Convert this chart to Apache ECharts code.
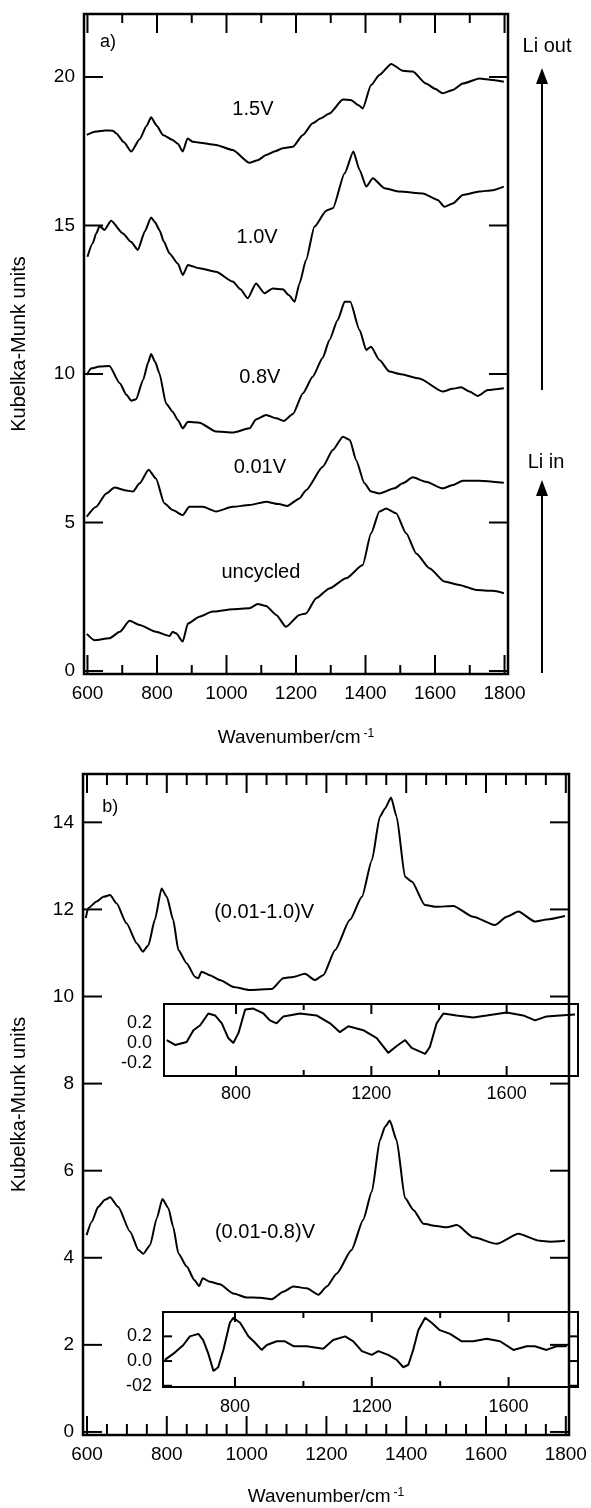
<!DOCTYPE html>
<html>
<head>
<meta charset="utf-8">
<script src="https://cdn.jsdelivr.net/npm/echarts@6/dist/echarts.min.js"></script>
<style>
  html, body { margin: 0; padding: 0; background: #fff; }
  #chart { width: 591px; height: 1508px; }
</style>
</head>
<body>
<div id="chart"></div>
<script>
// ---- Panel a: DRIFT spectra at several potentials, [wavenumber (cm-1), Kubelka-Munk units]
const spec15V = [[598,18.05],[625,18.16],[650,18.2],[673,18.19],[683,18.1],[705,17.8],[726,17.49],[750,17.9],[770,18.35],[783,18.64],[800,18.35],[817,18.05],[845,17.88],[860,17.75],[874,17.49],[888,17.93],[903,17.82],[970,17.71],[1018,17.54],[1066,17.11],[1090,17.2],[1114,17.37],[1140,17.5],[1162,17.6],[1191,17.65],[1220,18.05],[1248,18.44],[1270,18.6],[1296,18.77],[1335,19.24],[1359,19.22],[1380,19.05],[1392,18.94],[1416,19.73],[1440,20.07],[1474,20.44],[1507,20.21],[1536,20.18],[1574,19.78],[1600,19.6],[1622,19.45],[1651,19.56],[1680,19.78],[1728,19.95],[1766,19.9],[1798,19.84]];
const spec10V = [[600,13.95],[615,14.4],[625,14.73],[635,14.98],[649,14.85],[668,15.16],[702,14.73],[725,14.45],[745,14.18],[765,14.8],[783,15.27],[795,15.1],[807,14.85],[820,14.45],[836,14.06],[860,13.72],[874,13.33],[889,13.67],[922,13.56],[970,13.44],[1018,13.11],[1040,12.85],[1061,12.55],[1085,13.05],[1109,12.72],[1133,12.88],[1162,12.85],[1180,12.65],[1196,12.43],[1210,13.05],[1229,13.84],[1253,14.96],[1287,15.5],[1306,15.58],[1340,16.76],[1365,17.49],[1383,16.87],[1402,16.31],[1421,16.59],[1455,16.25],[1498,16.14],[1565,16.08],[1608,15.86],[1627,15.63],[1651,15.74],[1680,16.03],[1728,16.14],[1766,16.19],[1798,16.31]];
const spec08V = [[598,9.97],[611,10.19],[635,10.25],[663,10.27],[693,9.69],[712,9.3],[726,9.1],[740,9.15],[760,9.8],[775,10.4],[783,10.67],[795,10.4],[807,10.02],[826,9.01],[845,8.73],[860,8.45],[874,8.17],[889,8.39],[922,8.36],[970,8.06],[1018,8.03],[1066,8.17],[1085,8.47],[1114,8.62],[1143,8.51],[1165,8.42],[1191,8.65],[1220,9.35],[1248,9.91],[1277,10.55],[1296,11.14],[1320,11.82],[1340,12.43],[1356,12.43],[1383,11.48],[1402,10.81],[1416,10.92],[1440,10.47],[1469,10.08],[1498,10.0],[1555,9.85],[1622,9.41],[1650,9.5],[1675,9.55],[1699,9.41],[1723,9.26],[1752,9.46],[1798,9.52]];
const spec001V = [[598,5.2],[625,5.53],[654,5.98],[678,6.18],[707,6.09],[731,6.04],[750,6.32],[776,6.78],[797,6.48],[821,5.65],[845,5.42],[874,5.25],[893,5.53],[932,5.53],[970,5.37],[1018,5.53],[1066,5.59],[1114,5.7],[1150,5.62],[1175,5.56],[1210,5.81],[1229,6.09],[1277,6.88],[1306,7.44],[1335,7.89],[1355,7.78],[1373,7.1],[1397,6.32],[1416,6.04],[1440,5.98],[1483,6.15],[1507,6.32],[1536,6.52],[1574,6.37],[1622,6.15],[1651,6.26],[1680,6.41],[1728,6.41],[1798,6.34]];
const specUncycled = [[598,1.25],[620,1.04],[663,1.1],[693,1.32],[721,1.69],[750,1.55],[797,1.32],[836,1.18],[845,1.32],[855,1.27],[874,0.99],[889,1.6],[922,1.83],[960,2.0],[1018,2.08],[1066,2.11],[1090,2.26],[1114,2.19],[1143,1.89],[1171,1.49],[1210,1.89],[1229,1.94],[1258,2.45],[1296,2.78],[1344,3.12],[1392,3.57],[1416,4.64],[1440,5.37],[1459,5.47],[1488,5.31],[1517,4.64],[1546,3.96],[1584,3.46],[1627,3.01],[1670,2.9],[1719,2.73],[1766,2.7],[1798,2.62]];

// ---- Panel b: spectra after cycling between two potentials
const cyc001to10 = [[597,11.8],[603,12.03],[624,12.18],[641,12.29],[658,12.33],[674,12.14],[699,11.68],[725,11.22],[740,11.03],[754,11.18],[770,11.76],[787,12.48],[800,12.29],[816,11.76],[829,11.07],[850,10.76],[871,10.45],[879,10.42],[887,10.57],[908,10.49],[933,10.38],[967,10.22],[1008,10.15],[1063,10.17],[1092,10.42],[1117,10.45],[1146,10.52],[1171,10.38],[1192,10.49],[1222,11.07],[1259,11.76],[1289,12.29],[1314,13.13],[1334,14.13],[1347,14.32],[1362,14.57],[1376,14.13],[1397,12.75],[1414,12.64],[1447,12.1],[1476,12.06],[1518,12.08],[1568,11.83],[1622,11.64],[1652,11.83],[1681,11.95],[1723,11.72],[1752,11.77],[1798,11.85]];
const cyc001to08 = [[599,4.52],[612,4.83],[628,5.17],[645,5.33],[658,5.39],[678,5.17],[708,4.6],[729,4.18],[741,4.09],[758,4.29],[775,4.91],[789,5.35],[804,5.14],[816,4.71],[829,4.1],[850,3.8],[869,3.49],[881,3.35],[890,3.53],[908,3.45],[933,3.39],[967,3.18],[1000,3.09],[1034,3.08],[1063,3.05],[1092,3.22],[1117,3.34],[1151,3.3],[1180,3.15],[1201,3.34],[1226,3.64],[1263,4.18],[1292,4.87],[1314,5.52],[1334,6.7],[1347,7.01],[1359,7.15],[1376,6.7],[1397,5.37],[1418,5.1],[1443,4.78],[1476,4.73],[1501,4.7],[1527,4.75],[1568,4.47],[1627,4.32],[1681,4.55],[1735,4.39],[1760,4.37],[1798,4.39]];

// ---- Insets: difference spectra
const diff10 = [[595,0.03],[620,-0.02],[654,0.01],[674,0.13],[694,0.18],[718,0.3],[738,0.28],[758,0.2],[777,0.05],[792,0.0],[807,0.1],[827,0.34],[851,0.35],[881,0.3],[900,0.23],[920,0.2],[940,0.27],[989,0.3],[1038,0.28],[1078,0.2],[1107,0.11],[1132,0.17],[1176,0.13],[1216,0.05],[1250,-0.1],[1275,-0.03],[1300,0.03],[1319,-0.05],[1359,-0.11],[1373,-0.04],[1393,0.2],[1413,0.3],[1452,0.28],[1501,0.26],[1541,0.28],[1600,0.31],[1649,0.28],[1684,0.23],[1718,0.27],[1758,0.28],[1802,0.29]];
const diff08 = [[595,0.01],[620,0.06],[649,0.13],[668,0.2],[693,0.22],[707,0.17],[722,0.06],[737,-0.08],[751,-0.05],[766,0.09],[785,0.31],[795,0.35],[815,0.31],[839,0.2],[858,0.15],[878,0.09],[893,0.13],[922,0.16],[946,0.16],[971,0.12],[1010,0.12],[1058,0.1],[1087,0.17],[1122,0.2],[1146,0.16],[1171,0.08],[1200,0.05],[1219,0.08],[1248,0.05],[1273,0.01],[1292,-0.05],[1307,-0.03],[1321,0.09],[1336,0.25],[1356,0.35],[1375,0.31],[1399,0.25],[1429,0.22],[1463,0.16],[1497,0.16],[1536,0.18],[1575,0.16],[1614,0.09],[1653,0.12],[1677,0.12],[1711,0.09],[1740,0.12],[1770,0.12]];

// ---- Tick values and labels
const xMajor = [600, 800, 1000, 1200, 1400, 1600, 1800];
const xMinorA = [700, 900, 1100, 1300, 1500, 1700];
const xMinorB = [650, 700, 750, 850, 900, 950, 1050, 1100, 1150, 1250, 1300, 1350, 1450, 1500, 1550, 1650, 1700, 1750];
const yTicksA = [0, 5, 10, 15, 20];
const yTicksB = [0, 2, 4, 6, 8, 10, 12, 14];
const insetXMajor = [800, 1200, 1600];
const insetXMinor = [1000, 1400];
const insetYTicks = [0.2, 0, -0.2];
const insetYLabels1 = ['0.2', '0.0', '-0.2'];
const insetYLabels2 = ['0.2', '0.0', '-02'];

const FONT = '"Liberation Sans", Arial, Helvetica, sans-serif';
const INK = '#000';

// Plot boxes (px) and axis ranges per grid: main a, main b, inset 1, inset 2
const boxes = [
  { left: 84, top: 14, width: 424, height: 660 },
  { left: 83, top: 774, width: 486, height: 661 },
  { left: 164, top: 1004, width: 414, height: 72 },
  { left: 163, top: 1312, width: 415, height: 75 }
];
const xRange = [[590, 1810], [590, 1808], [587, 1811], [589.5, 1803]];
const yRange = [[-0.1, 22.12], [-0.07, 15.11], [-0.335, 0.396], [-0.21, 0.397]];

function labelAxis(grid, range, pos, vals, label, name) {
  return Object.assign({ type: 'value', gridIndex: grid, min: range[0], max: range[1], position: pos,
    axisLine: { show: false, onZero: false }, axisTick: { show: false },
    axisLabel: Object.assign({ show: true, customValues: vals, color: INK, fontFamily: FONT,
                               formatter: (v) => String(v) }, label),
    splitLine: { show: false } }, name || {});
}

const xName = (gap) => ({
  name: 'Wavenumber/cm{s|-1}', nameLocation: 'middle', nameGap: gap,
  nameTextStyle: { color: INK, fontFamily: FONT, fontSize: 19,
    rich: { s: { fontSize: 12, color: INK, fontFamily: FONT, verticalAlign: 'top', padding: [0, 0, 0, 3] } } }
});
const yName = (gap) => ({
  name: 'Kubelka-Munk units', nameLocation: 'middle', nameGap: gap,
  nameTextStyle: { color: INK, fontFamily: FONT, fontSize: 20 }
});
const insetYFormat = (labels) => (v) => labels[insetYTicks.findIndex(t => Math.abs(t - v) < 1e-6)];

const xAxis = [
  labelAxis(0, xRange[0], 'bottom', xMajor, { fontSize: 19, margin: 10 }, xName(54)),
  labelAxis(1, xRange[1], 'bottom', xMajor, { fontSize: 19, margin: 10 }, xName(52)),
  labelAxis(2, xRange[2], 'bottom', insetXMajor, { fontSize: 18, margin: 9 }, null),
  labelAxis(3, xRange[3], 'bottom', insetXMajor, { fontSize: 18, margin: 11 }, null)
];
const yAxis = [
  labelAxis(0, yRange[0], 'left', yTicksA, { fontSize: 19, margin: 9 }, yName(55)),
  labelAxis(1, yRange[1], 'left', yTicksB, { fontSize: 19, margin: 9 }, yName(54)),
  labelAxis(2, yRange[2], 'left', insetYTicks, { fontSize: 18, margin: 12, formatter: insetYFormat(insetYLabels1) }, null),
  labelAxis(3, yRange[3], 'left', insetYTicks, { fontSize: 18, margin: 11, formatter: insetYFormat(insetYLabels2) }, null)
];

function curve(data, grid, smooth) {
  return { type: 'line', data: data, xAxisIndex: grid, yAxisIndex: grid, showSymbol: false, symbol: 'none',
           smooth: smooth, smoothMonotone: 'x', silent: true, animation: false,
           lineStyle: { color: INK, width: 2 } };
}

// Inward tick marks on all four sides of each frame. Each mark is a short two-point line in
// data space; its length in px is turned into data units with the panel's scale.
const tickLen = [[19, 9, 19], [19, 11, 19], [10, 6, 0], [10, 6, 9]];
const tickLists = [
  [xMajor, xMinorA, yTicksA],
  [xMajor, xMinorB, yTicksB],
  [insetXMajor, insetXMinor, []],
  [insetXMajor, insetXMinor, insetYTicks]
];
function tickMark(g, pts) {
  return { type: 'line', data: pts, xAxisIndex: g, yAxisIndex: g, showSymbol: false, symbol: 'none',
           silent: true, animation: false, clip: false, z: 3, lineStyle: { color: INK, width: 2 } };
}
const tickSeries = [];
boxes.forEach((box, g) => {
  const [x0, x1] = xRange[g], [y0, y1] = yRange[g];
  const perX = (x1 - x0) / box.width, perY = (y1 - y0) / box.height;
  tickLists[g].forEach((vals, kind) => {
    const len = tickLen[g][kind];
    if (!len) return;
    vals.forEach(v => {
      if (kind < 2) {
        const dy = len * perY;
        tickSeries.push(tickMark(g, [[v, y0], [v, y0 + dy]]), tickMark(g, [[v, y1], [v, y1 - dy]]));
      } else {
        const dx = len * perX;
        tickSeries.push(tickMark(g, [[x0, v], [x0 + dx, v]]), tickMark(g, [[x1, v], [x1 - dx, v]]));
      }
    });
  });
});

const frame = { show: true, borderColor: INK, borderWidth: 2.5, backgroundColor: 'transparent' };
const chart = echarts.init(document.getElementById('chart'));
chart.setOption({
  backgroundColor: '#fff',
  animation: false,
  grid: [
    Object.assign({}, boxes[0], frame),
    Object.assign({}, boxes[1], frame),
    Object.assign({}, boxes[2], frame, { borderWidth: 2 }),
    Object.assign({}, boxes[3], frame, { borderWidth: 2 })
  ],
  xAxis: xAxis,
  yAxis: yAxis,
  series: [
    curve(spec15V, 0, 0.2), curve(spec10V, 0, 0.2), curve(spec08V, 0, 0.2),
    curve(spec001V, 0, 0.2), curve(specUncycled, 0, 0.2),
    curve(cyc001to10, 1, 0.2), curve(cyc001to08, 1, 0.2),
    curve(diff10, 2, false), curve(diff08, 3, false)
  ].concat(tickSeries)
});

const graphic = [];

// Curve annotations, anchored in data coordinates of each panel
const notes = [
  { text: 'a)', at: [659, 21.18], grid: 0 },
  { text: '1.5V', at: [1076, 18.89], grid: 0 },
  { text: '1.0V', at: [1088, 14.61], grid: 0 },
  { text: '0.8V', at: [1096, 9.87], grid: 0 },
  { text: '0.01V', at: [1096, 6.84], grid: 0 },
  { text: 'uncycled', at: [1099, 3.33], grid: 0 },
  { text: 'b)', at: [658, 14.35], grid: 1 },
  { text: '(0.01-1.0)V', at: [1044, 11.92], grid: 1 },
  { text: '(0.01-0.8)V', at: [1046, 4.57], grid: 1 }
];
for (const n of notes) {
  const p = chart.convertToPixel({ xAxisIndex: n.grid, yAxisIndex: n.grid }, n.at);
  graphic.push({ type: 'text', x: p[0], y: p[1],
    style: { text: n.text, fill: INK, font: (n.text.length < 3 ? 18 : 20) + 'px ' + FONT,
             align: 'center', verticalAlign: 'middle' } });
}

// Direction arrows beside panel a
function arrow(x, yTail, yTip) {
  return [
    { type: 'line', shape: { x1: x, y1: yTail, x2: x, y2: yTip + 12 }, style: { stroke: INK, lineWidth: 2 } },
    { type: 'polygon', shape: { points: [[x, yTip], [x - 6, yTip + 16], [x + 6, yTip + 16]] }, style: { fill: INK } }
  ];
}
graphic.push(...arrow(542, 390, 68), ...arrow(542, 673, 480));
graphic.push(
  { type: 'text', x: 547, y: 46, style: { text: 'Li out', fill: INK, font: '20px ' + FONT, align: 'center', verticalAlign: 'middle' } },
  { type: 'text', x: 546, y: 462, style: { text: 'Li in', fill: INK, font: '20px ' + FONT, align: 'center', verticalAlign: 'middle' } }
);
chart.setOption({ graphic: graphic });
</script>
</body>
</html>
